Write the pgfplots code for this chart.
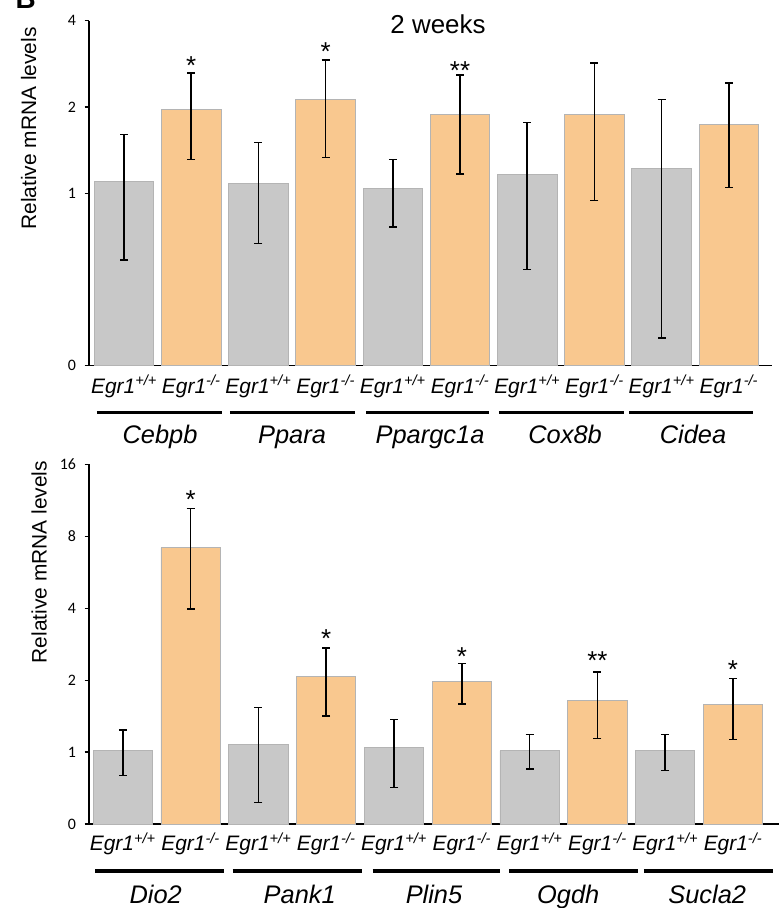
\documentclass[border=0pt]{standalone}
\usepackage{fontspec}
\setmainfont{Liberation Sans}
\newfontfamily\carlito{Carlito}
\usepackage{pgfplots}
\usepackage{pgfplotstable}
\pgfplotsset{compat=1.18}
\definecolor{barGray}{HTML}{C8C8C8}
\definecolor{barOrange}{HTML}{F9C88F}
\definecolor{edgeGray}{HTML}{B4B4B4}
\newcommand{\fs}[1]{\fontsize{#1}{#1}\selectfont}
\newcommand{\tl}[1]{\mbox{\carlito\fs{16}#1}}
\newcommand{\wt}{{\fs{21}\itshape Egr1\textsuperscript{+/+}}}
\newcommand{\ko}{{\fs{21}\itshape Egr1\textsuperscript{-/-}}}

% values on a log2 scale, offset so that the axis bottom is 0
\pgfplotstableread{
x y ep em
0 2.133 0.550 0.908
2 2.115 0.471 0.701
4 2.052 0.341 0.444
6 2.214 0.603 1.096
8 2.284 0.805 1.963
}\topWT
\pgfplotstableread{
x y ep em
1 2.976 0.418 0.583
3 3.089 0.455 0.673
5 2.910 0.460 0.687
7 2.918 0.592 1.000
9 2.802 0.476 0.734
}\topKO
\pgfplotstableread{
x y ep em
0 1.028 0.278 0.352
2 1.111 0.509 0.815
4 1.060 0.394 0.551
6 1.018 0.227 0.254
8 1.018 0.227 0.273
}\botWT
\pgfplotstableread{
x y ep em
1 3.843 0.541 0.853
3 2.046 0.403 0.542
5 1.981 0.250 0.314
7 1.722 0.389 0.532
9 1.662 0.361 0.486
}\botKO

\pgfplotsset{
  myaxis/.style={scale only axis, anchor=south west, ybar, ymin=0, clip=false,
    axis x line*=bottom, axis y line*=left,
    axis line style={black, line width=1.5bp},
    xtick=\empty, tick align=outside, major tick length=4.5bp,
    ytick style={black, line width=1.2bp},
    yticklabel style={anchor=east, xshift=-5bp}},
  mybars/.style={bar shift=0pt, draw=edgeGray, line width=0.8bp,
    error bars/.cd, y dir=both, y explicit,
    error bar style={black, line width=1.5bp},
    error mark options={rotate=90, black, line width=1.5bp, mark size=4bp}},
}

\begin{document}
\begin{tikzpicture}
\useasboundingbox (0,0) rectangle (783bp,-908bp);
\node[anchor=base west, font=\fs{28}\bfseries] at (12bp,-8bp) {B};
\node[anchor=base, font=\fs{26}] at (438bp,-33.3bp) {2 weeks};
\node[anchor=base, rotate=90, font=\fs{21}] at (36bp,-128.5bp) {Relative mRNA levels};
\node[anchor=base, rotate=90, font=\fs{21}] at (46.7bp,-562bp) {Relative mRNA levels};

\begin{axis}[myaxis, at={(89bp,-365.7bp)}, width=682.7bp, height=345bp,
  xmin=-0.521, xmax=9.638, ymax=4, ytick={0,2,3,4},
  yticklabels={\tl{0},\tl{1},\tl{2},\tl{4}}]
\addplot[fill=barGray, bar width=0.885, mybars] table[x=x,y=y,y error plus=ep,y error minus=em] {\topWT};
\addplot[fill=barOrange, bar width=0.885, mybars] table[x=x,y=y,y error plus=ep,y error minus=em] {\topKO};
\pgfplotsinvokeforeach{0,2,4,6,8}{\node[anchor=base, yshift=-27.6bp] at (axis cs:#1,0) {\wt};}
\pgfplotsinvokeforeach{1,3,5,7,9}{\node[anchor=base, yshift=-27.6bp] at (axis cs:#1,0) {\ko};}
\draw[line width=3.3bp] ([yshift=-47bp]axis cs:-0.402,0) -- ([yshift=-47bp]axis cs:1.458,0);
\draw[line width=3.3bp] ([yshift=-47bp]axis cs:1.577,0) -- ([yshift=-47bp]axis cs:3.438,0);
\draw[line width=3.3bp] ([yshift=-47bp]axis cs:3.601,0) -- ([yshift=-47bp]axis cs:5.436,0);
\draw[line width=3.3bp] ([yshift=-47bp]axis cs:5.580,0) -- ([yshift=-47bp]axis cs:7.440,0);
\draw[line width=3.3bp] ([yshift=-47bp]axis cs:7.515,0) -- ([yshift=-47bp]axis cs:9.365,0);
\node[anchor=base, font=\fs{25.5}\itshape, yshift=-77.3bp] at (axis cs:0.536,0) {Cebpb};
\node[anchor=base, font=\fs{25.5}\itshape, yshift=-77.3bp] at (axis cs:2.5,0) {Ppara};
\node[anchor=base, font=\fs{25.5}\itshape, yshift=-77.3bp] at (axis cs:4.554,0) {Ppargc1a};
\node[anchor=base, font=\fs{25.5}\itshape, yshift=-77.3bp] at (axis cs:6.563,0) {Cox8b};
\node[anchor=base, font=\fs{25.5}\itshape, yshift=-77.3bp] at (axis cs:8.467,0) {Cidea};
\node[anchor=base, font=\fs{26}] at (axis cs:1,3.38) {*};
\node[anchor=base, font=\fs{26}] at (axis cs:3,3.54) {*};
\node[anchor=base, font=\fs{26}] at (axis cs:5,3.32) {**};
\end{axis}

\begin{axis}[myaxis, at={(89bp,-824bp)}, width=690.3bp, height=359.7bp,
  xmin=-0.4985, xmax=9.683, ymax=5, ytick={0,1,2,3,4,5},
  yticklabels={\tl{0},\tl{1},\tl{2},\tl{4},\tl{8},\tl{16}}]
\addplot[fill=barGray, bar width=0.875, mybars] table[x=x,y=y,y error plus=ep,y error minus=em] {\botWT};
\addplot[fill=barOrange, bar width=0.875, mybars] table[x=x,y=y,y error plus=ep,y error minus=em] {\botKO};
\pgfplotsinvokeforeach{0,2,4,6,8}{\node[anchor=base, yshift=-26.7bp] at (axis cs:#1,0) {\wt};}
\pgfplotsinvokeforeach{1,3,5,7,9}{\node[anchor=base, yshift=-26.7bp] at (axis cs:#1,0) {\ko};}
\draw[line width=3.3bp] ([yshift=-47bp]axis cs:-0.410,0) -- ([yshift=-47bp]axis cs:1.493,0);
\draw[line width=3.3bp] ([yshift=-47bp]axis cs:1.621,0) -- ([yshift=-47bp]axis cs:3.532,0);
\draw[line width=3.3bp] ([yshift=-47bp]axis cs:3.686,0) -- ([yshift=-47bp]axis cs:5.563,0);
\draw[line width=3.3bp] ([yshift=-47bp]axis cs:5.701,0) -- ([yshift=-47bp]axis cs:7.603,0);
\draw[line width=3.3bp] ([yshift=-47bp]axis cs:7.687,0) -- ([yshift=-47bp]axis cs:9.585,0);
\node[anchor=base, font=\fs{25.5}\itshape, yshift=-79.3bp] at (axis cs:0.485,0) {Dio2};
\node[anchor=base, font=\fs{25.5}\itshape, yshift=-79.3bp] at (axis cs:2.61,0) {Pank1};
\node[anchor=base, font=\fs{25.5}\itshape, yshift=-79.3bp] at (axis cs:4.59,0) {Plin5};
\node[anchor=base, font=\fs{25.5}\itshape, yshift=-79.3bp] at (axis cs:6.57,0) {Ogdh};
\node[anchor=base, font=\fs{25.5}\itshape, yshift=-79.3bp] at (axis cs:8.62,0) {Sucla2};
\node[anchor=base, font=\fs{26}] at (axis cs:1,4.39) {*};
\node[anchor=base, font=\fs{26}] at (axis cs:3,2.45) {*};
\node[anchor=base, font=\fs{26}] at (axis cs:5,2.20) {*};
\node[anchor=base, font=\fs{26}] at (axis cs:7,2.15) {**};
\node[anchor=base, font=\fs{26}] at (axis cs:9,2.02) {*};
\end{axis}
\end{tikzpicture}
\end{document}
